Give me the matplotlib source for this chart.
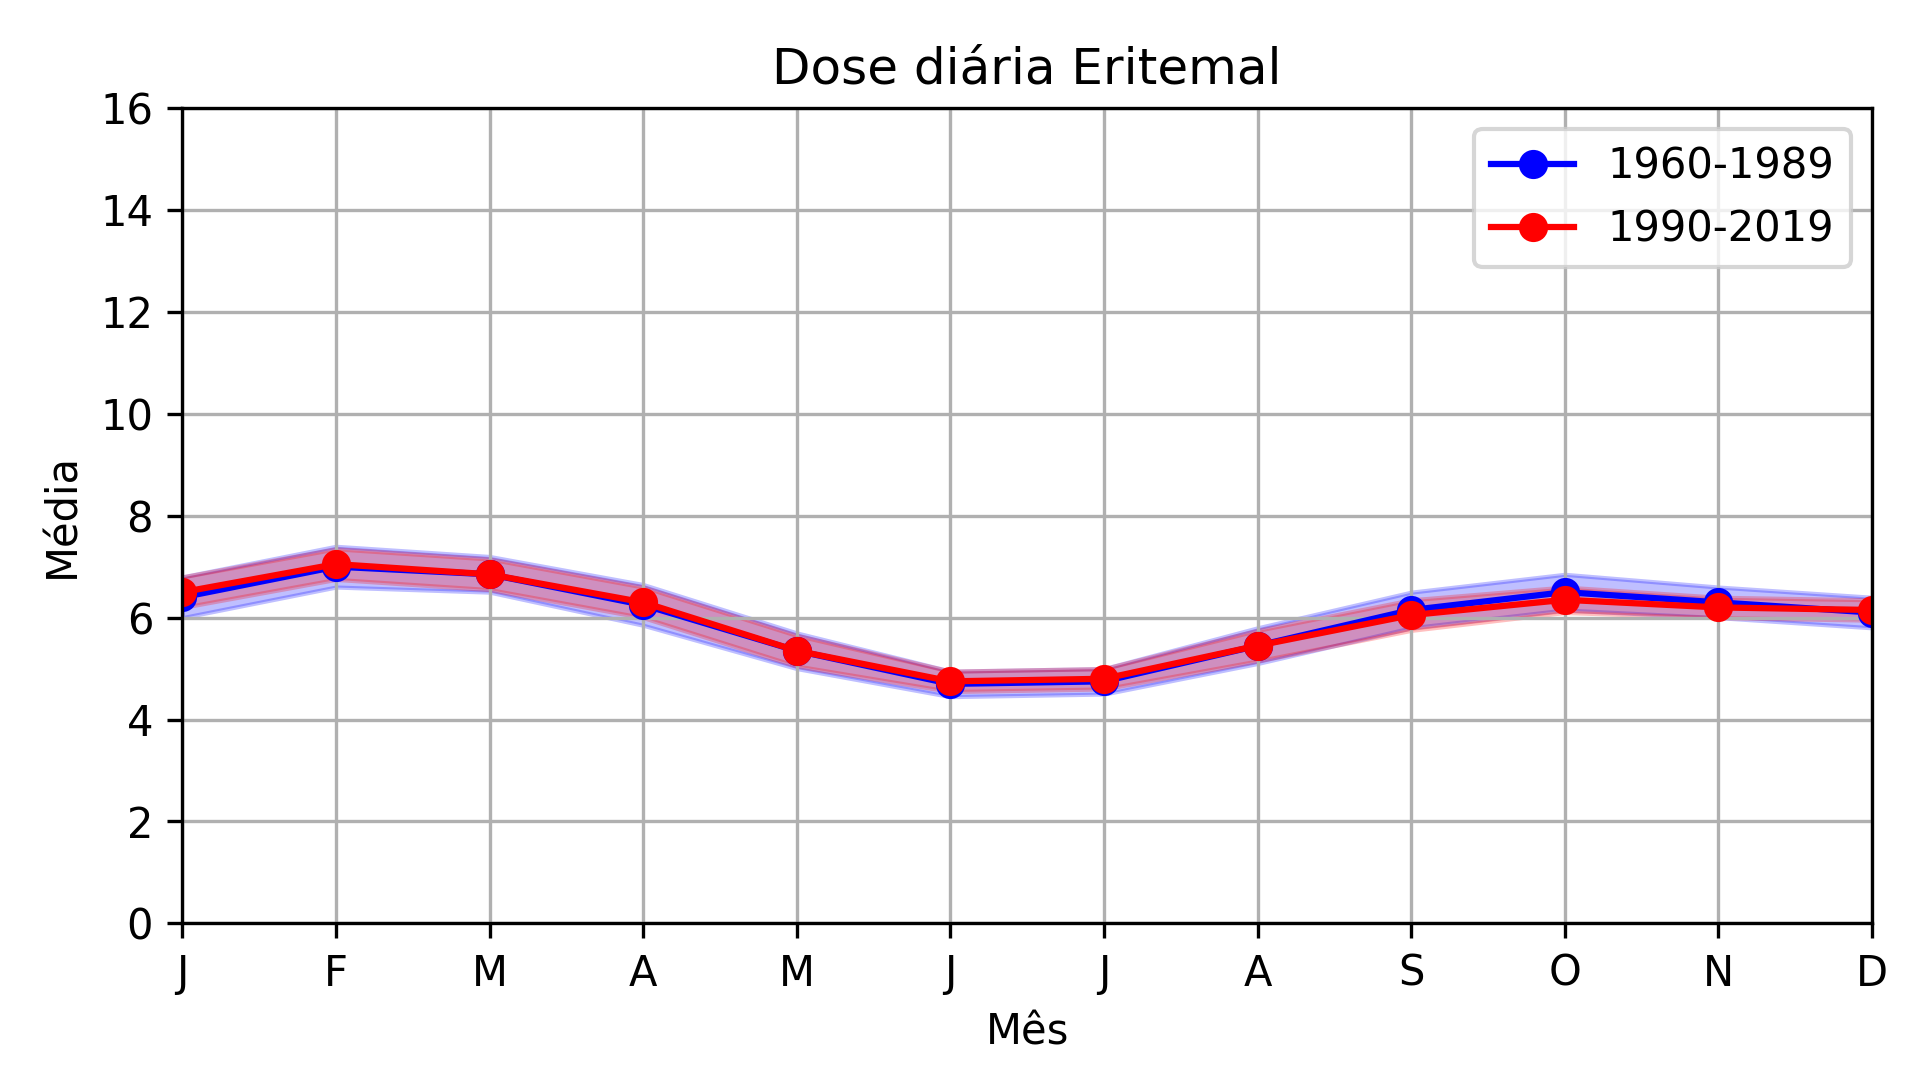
import numpy as np
import matplotlib
matplotlib.use("Agg")
import matplotlib.pyplot as plt

meses = ["J", "F", "M", "A", "M", "J", "J", "A", "S", "O", "N", "D"]
media_1960 = [6.4, 7.0, 6.85, 6.25, 5.35, 4.7, 4.75, 5.45, 6.15, 6.5, 6.3, 6.1]
std_1960 = [0.4, 0.4, 0.35, 0.4, 0.35, 0.25, 0.25, 0.35, 0.35, 0.35, 0.3, 0.3]
media_1990 = [6.5, 7.05, 6.85, 6.3, 5.35, 4.75, 4.8, 5.45, 6.05, 6.35, 6.2, 6.15]
std_1990 = [0.3, 0.3, 0.3, 0.3, 0.3, 0.2, 0.2, 0.3, 0.3, 0.25, 0.2, 0.2]

x = np.arange(len(meses))
m1, s1 = np.array(media_1960), np.array(std_1960)
m2, s2 = np.array(media_1990), np.array(std_1990)

fig, ax = plt.subplots(figsize=(6.4, 3.6), dpi=300)
ax.plot(x, m1, "-o", color="blue", label="1960-1989")
ax.fill_between(x, m1 - s1, m1 + s1, color="blue", alpha=0.25)
ax.plot(x, m2, "-o", color="red", label="1990-2019")
ax.fill_between(x, m2 - s2, m2 + s2, color="red", alpha=0.25)

ax.set_xticks(x)
ax.set_xticklabels(meses)
ax.set_xlim(0, 11)
ax.set_ylim(0, 16)
ax.grid(True)
ax.set_xlabel("Mês")
ax.set_ylabel("Média")
ax.set_title("Dose diária Eritemal")
ax.legend(loc="upper right")
plt.subplots_adjust(left=0.095, right=0.975, top=0.9, bottom=0.145)
plt.savefig("out.png")
